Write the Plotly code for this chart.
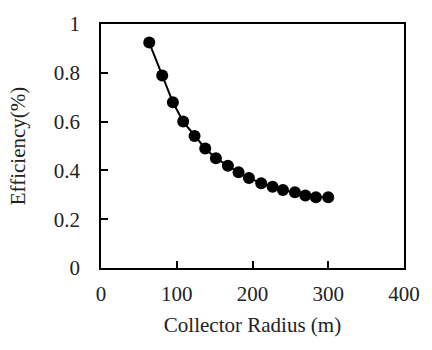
import plotly.graph_objects as go

radius = [63.7, 80.8, 94.9, 108.5, 123.5, 137.6, 151.7, 167.5, 181.6, 195.3,
          211.5, 226.5, 240.2, 256.0, 269.7, 283.7, 300.0]
efficiency = [0.924, 0.789, 0.679, 0.600, 0.541, 0.490, 0.450, 0.419, 0.392, 0.369,
              0.347, 0.333, 0.320, 0.310, 0.297, 0.290, 0.290]
x_ticks = [0, 100, 200, 300, 400]
y_ticks = [0, 0.2, 0.4, 0.6, 0.8, 1]
y_tick_text = ["0", "0.2", "0.4", "0.6", "0.8", "1"]

font = dict(family="Liberation Serif, Times New Roman, serif", size=21, color="#222")

fig = go.Figure(go.Scatter(
    x=radius, y=efficiency, mode="lines+markers",
    line=dict(color="black", width=2),
    marker=dict(color="black", size=12),
))

fig.update_layout(
    width=432, height=350,
    margin=dict(l=101, r=19, t=22, b=82),
    paper_bgcolor="white", plot_bgcolor="white",
    font=font, showlegend=False,
)
fig.update_xaxes(
    range=[0, 400], tickvals=x_ticks, ticks="inside", ticklen=7, tickwidth=1.5,
    tickcolor="black", showline=True, linecolor="black", linewidth=1.5, mirror=True,
    showgrid=False, zeroline=False, ticklabelstandoff=6,
    title=dict(text="Collector Radius (m)", standoff=12, font=font),
)
fig.update_yaxes(
    range=[0, 1], tickvals=y_ticks, ticktext=y_tick_text, ticks="inside", ticklen=7,
    tickwidth=1.5, tickcolor="black", showline=True, linecolor="black", linewidth=1.5,
    mirror=True, showgrid=False, zeroline=False, ticklabelstandoff=15,
    title=dict(text="Efficiency(%)", standoff=22, font=font),
)

fig.write_html("out.html")
